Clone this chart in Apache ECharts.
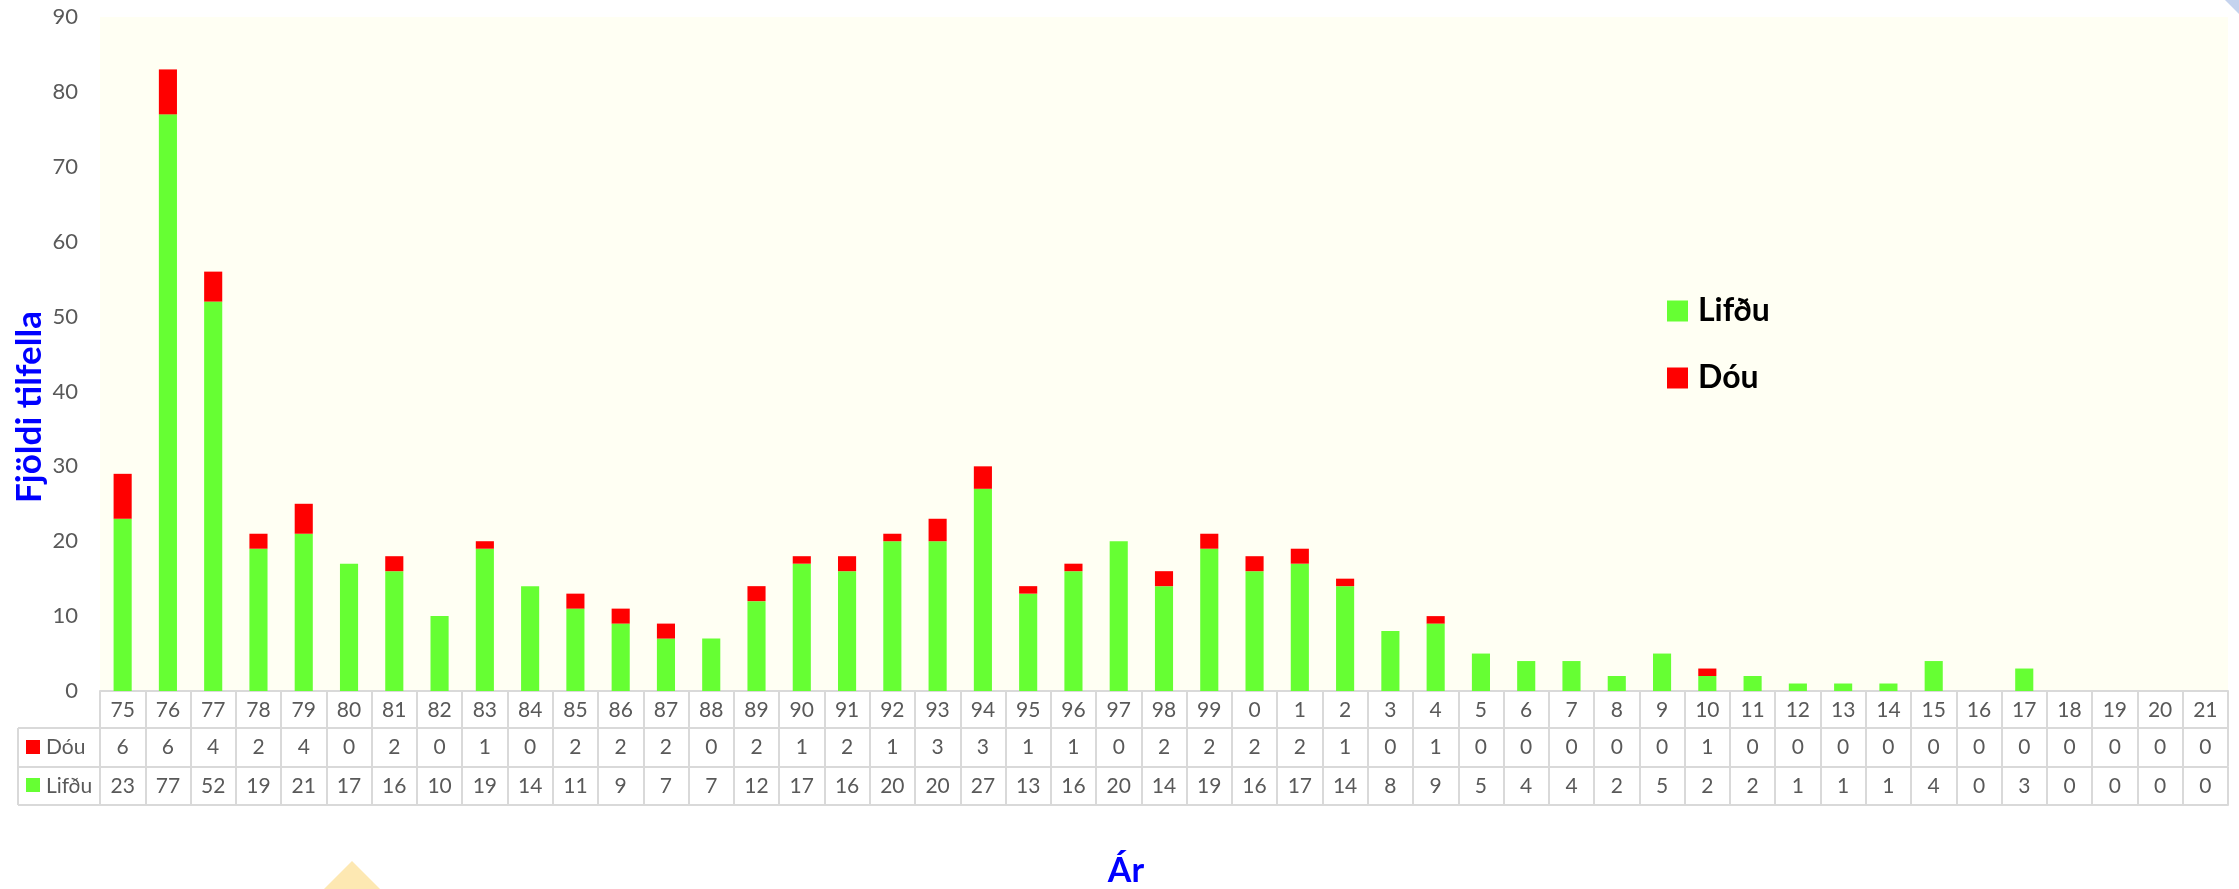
<!DOCTYPE html>
<html>
<head>
<meta charset="utf-8">
<script src="https://cdn.jsdelivr.net/npm/echarts@6/dist/echarts.min.js"></script>
<style>
html,body{margin:0;padding:0;background:#fff;}
#c{width:2239px;height:889px;}
</style>
</head>
<body>
<div id="c"></div>
<script>
const years = ['75','76','77','78','79','80','81','82','83','84','85','86','87','88','89','90','91','92','93','94','95','96','97','98','99','0','1','2','3','4','5','6','7','8','9','10','11','12','13','14','15','16','17','18','19','20','21'];
const dou = [6,6,4,2,4,0,2,0,1,0,2,2,2,0,2,1,2,1,3,3,1,1,0,2,2,2,2,1,0,1,0,0,0,0,0,1,0,0,0,0,0,0,0,0,0,0,0];
const lifdu = [23,77,52,19,21,17,16,10,19,14,11,9,7,7,12,17,16,20,20,27,13,16,20,14,19,16,17,14,8,9,5,4,4,2,5,2,2,1,1,1,4,0,3,0,0,0,0];
const yTicks = {min:0, max:90, interval:10};
const seriesNames = ['Lifðu','Dóu'];

const FONT = 'Lato, "Noto Sans", sans-serif';
const LINE = '#d9d9d9';
const TXT = '#595959';

const chart = echarts.init(document.getElementById('c'), null, {renderer:'canvas'});

function tableAxis(offset, labels, tickLen, showLabel){
  return {
    type:'category', data: years, position:'bottom', offset: offset, gridIndex:0,
    boundaryGap:true,
    axisLine:{show:true, lineStyle:{color:LINE, width:2}},
    axisTick:{show: tickLen>0, length: tickLen, alignWithLabel:false, interval:0, lineStyle:{color:LINE, width:2}},
    axisLabel:{show: showLabel, interval:0, margin:9, fontSize:21, color:TXT, fontFamily:FONT,
      formatter: (v, i) => String(labels[i])},
    splitLine:{show:false}
  };
}

const option = {
  backgroundColor:'#ffffff',
  animation:false,
  textStyle:{fontFamily:FONT},
  grid:{left:100, right:11, top:17, bottom:198, show:true, backgroundColor:'#FFFFF3', borderWidth:0},
  legend:{
    data: seriesNames, orient:'vertical', left:1662, top:290,
    itemWidth:21, itemHeight:21, itemGap:35, icon:'rect',
    textStyle:{fontSize:32, fontWeight:'bold', color:'#000', fontFamily:FONT, padding:[0,0,0,5]}
  },
  xAxis:[
    tableAxis(0, years, 37, true),
    tableAxis(37, dou, 38, true),
    tableAxis(76, lifdu, 38, true),
    tableAxis(114, years, 0, false)
  ],
  yAxis:{
    type:'value', min:yTicks.min, max:yTicks.max, interval:yTicks.interval,
    axisLine:{show:false}, axisTick:{show:false}, splitLine:{show:false},
    axisLabel:{fontSize:22, color:TXT, margin:22, fontFamily:FONT}
  },
  series:[
    {name:seriesNames[0], type:'bar', stack:'a', data:lifdu, barWidth:'40%', xAxisIndex:0,
     itemStyle:{color:'#66FF33'}},
    {name:seriesNames[1], type:'bar', stack:'a', data:dou, barWidth:'40%', xAxisIndex:0,
     itemStyle:{color:'#FF0000'}}
  ],
  graphic:[
    // left legend column of the data table
    {type:'line', shape:{x1:18,y1:728,x2:100,y2:728}, style:{stroke:LINE, lineWidth:2}},
    {type:'line', shape:{x1:18,y1:767,x2:100,y2:767}, style:{stroke:LINE, lineWidth:2}},
    {type:'line', shape:{x1:18,y1:805,x2:100,y2:805}, style:{stroke:LINE, lineWidth:2}},
    {type:'line', shape:{x1:18,y1:728,x2:18,y2:805}, style:{stroke:LINE, lineWidth:2}},
    {type:'rect', shape:{x:26,y:740,width:14,height:14}, style:{fill:'#FF0000'}},
    {type:'text', x:46, y:747.5, style:{text:seriesNames[1], fontSize:21, fill:TXT, fontFamily:FONT, verticalAlign:'middle'}},
    {type:'rect', shape:{x:26,y:778,width:14,height:14}, style:{fill:'#66FF33'}},
    {type:'text', x:46, y:786, style:{text:seriesNames[0], fontSize:21, fill:TXT, fontFamily:FONT, verticalAlign:'middle'}},
    // axis titles
    {type:'text', x:30, y:407, rotation:Math.PI/2, style:{text:'Fjöldi tilfella', fontSize:35, fontWeight:'bold', fill:'#0000FF', fontFamily:FONT, align:'center', verticalAlign:'middle'}},
    {type:'text', x:1126, y:854, style:{text:'Ár', fontSize:34, fontWeight:'bold', fill:'#0000FF', fontFamily:FONT, align:'center', verticalAlign:'top'}},
    // decorative corner shapes
    {type:'polygon', shape:{points:[[324,889],[352,861],[380,889]]}, style:{fill:'#FDE8B2'}},
    {type:'polygon', shape:{points:[[2225,0],[2239,0],[2239,14]]}, style:{fill:'#C5D3EE'}}
  ]
};
chart.setOption(option);
</script>
</body>
</html>
